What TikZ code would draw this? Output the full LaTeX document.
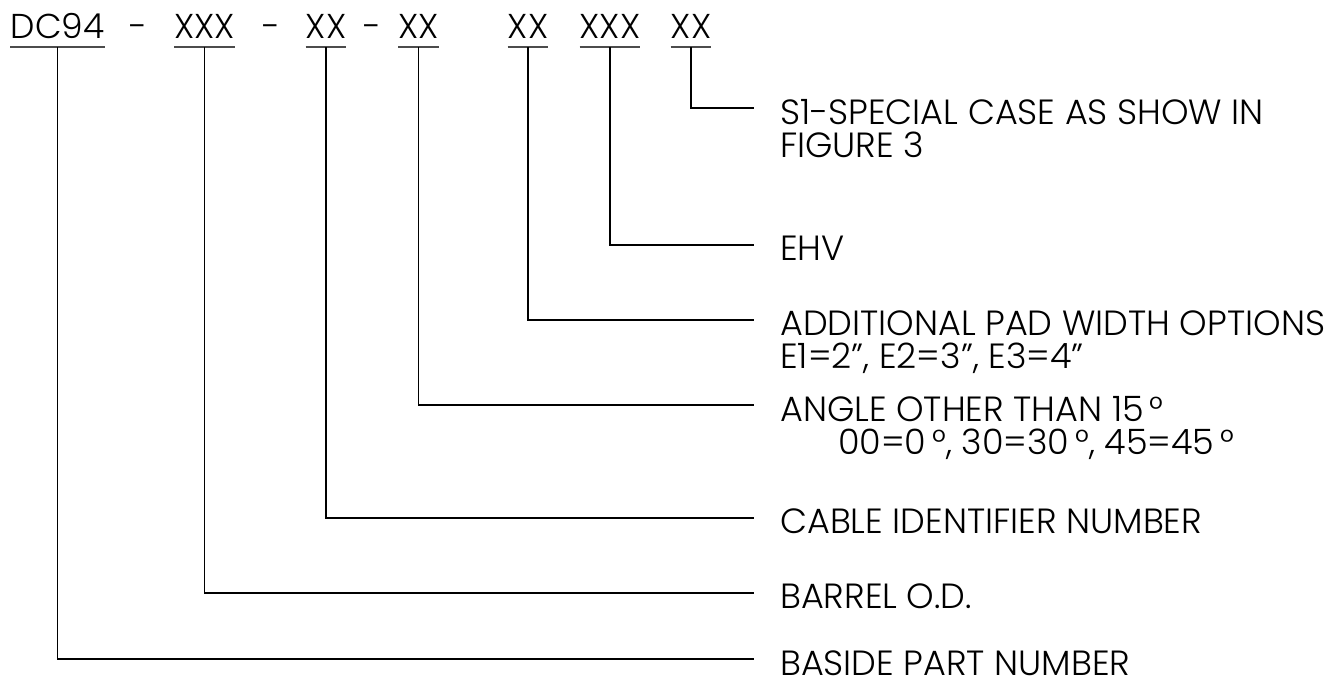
\documentclass[tikz,border=0pt]{standalone}
\usepackage{fontspec}
\IfFontExistsTF{Poppins Light}{\setmainfont{Poppins Light}}{\setmainfont{Poppins}}
\usetikzlibrary{positioning}

\begin{document}
\begin{tikzpicture}[x=1pt, y=-1pt,
  code/.style={inner sep=0pt, text depth=8pt, font=\fontsize{34.5}{36}\selectfont},
  lbl/.style={inner sep=0pt, align=left, anchor=north west, font=\fontsize{35}{31}\selectfont},
  bar/.style={line width=1.4pt, draw=black!70},
  conn/.style={line width=1.1pt}]
\useasboundingbox (0,0) rectangle (1343,684);

% Part number code along the top
\node[code, anchor=base] (dc) at (57.5,39) {DC94};
\node[code, anchor=base] (d1) at (138,39) {-};
\node[code, anchor=base] (od) at (204.5,39) {XXX};
\node[code, anchor=base] (d2) at (271,39) {-};
\node[code, anchor=base] (cbl) at (326,39) {XX};
\node[code, anchor=base] (d3) at (372.5,39) {-};
\node[code, anchor=base] (ang) at (418.5,39) {XX};
\node[code, anchor=base] (pad) at (528,39) {XX};
\node[code, anchor=base] (ehv) at (610,39) {XXX};
\node[code, anchor=base] (spc) at (691,39) {XX};

% Underlines
\foreach \n in {dc, od, cbl, ang, pad, ehv, spc}
  \draw[bar] (\n.south west) -- (\n.south east);

% End points of the leaders
\coordinate (espc) at (754,108);
\coordinate (eehv) at (754,245);
\coordinate (epad) at (754,320);
\coordinate (eang) at (754,405);
\coordinate (ecbl) at (754,518);
\coordinate (eod) at (754,593);
\coordinate (edc) at (754,659);

% Descriptions
\node[lbl] (lspc) at ([xshift=26pt,yshift=9pt]espc) {S1-SPECIAL CASE AS SHOW IN\\[2pt]FIGURE 3};
\node[lbl] (lehv) at ([xshift=26pt,yshift=9pt]eehv) {EHV};
\node[lbl] (lpad) at ([xshift=26pt,yshift=9pt]epad) {ADDITIONAL PAD WIDTH OPTIONS\\[2pt]E1=2", E2=3", E3=4"};
\node[lbl] (lang) at ([xshift=26pt,yshift=9pt]eang) {ANGLE OTHER THAN 15\,°\\[2pt]\hspace*{58pt}00=0\,°, 30=30\,°, 45=45\,°};
\node[lbl] (lcbl) at ([xshift=26pt,yshift=9pt]ecbl) {CABLE IDENTIFIER NUMBER};
\node[lbl] (lod) at ([xshift=26pt,yshift=9pt]eod) {BARREL O.D.};
\node[lbl, text depth=0pt] (ldc) at ([xshift=26pt,yshift=8pt]edc) {BASIDE PART NUMBER};

% Leaders
\foreach \n in {spc, ehv, pad, ang, cbl, od, dc}
  \draw[conn] (\n.south) |- (e\n);
\end{tikzpicture}
\end{document}
